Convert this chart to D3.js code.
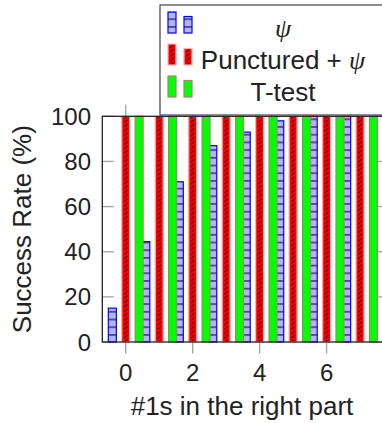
<!DOCTYPE html>
<html>
<head>
<meta charset="utf-8">
<script src="https://cdn.jsdelivr.net/npm/d3@7"></script>
<style>
  body { margin: 0; background: #fff; }
  svg { display: block; font-family: "Liberation Sans", Arial, sans-serif; }
</style>
</head>
<body>
<div id="chart"></div>
<script>
// data
var xValues = [0, 1, 2, 3, 4, 5, 6, 7];
var psiRate = [15, 44.5, 71, 87, 93, 98, 100, 100];
var puncturedRate = [100, 100, 100, 100, 100, 100, 100, 100];
var tTestRate = [100, 100, 100, 100, 100, 100, 100, 100];
var xTicks = [0, 2, 4, 6];
var yTicks = [0, 20, 40, 60, 80, 100];

var width = 382, height = 423;
var fontSize = 24;      // tick labels
var labelSize = 26;     // axis titles and legend

var series = [
  { key: "psi", values: psiRate, fill: "url(#hlines)", stroke: "#0000ff", legendFill: "url(#hlines)" },
  { key: "punct", values: puncturedRate, fill: "url(#nelines)", stroke: "#ffb0b0", legendFill: "url(#nelinesLegend)" },
  { key: "ttest", values: tTestRate, fill: "#00ff00", stroke: "#9b8a6a", legendFill: "#00ff00" }
];

var svg = d3.select("#chart").append("svg")
  .attr("width", width)
  .attr("height", height);

var x = d3.scaleLinear().domain([-0.7, 7.7]).range([102.3, 383.5]);
var y = d3.scaleLinear().domain([0, 100]).range([342, 116.3]);
// offset of each series inside a group, in x units
var offset = d3.scalePoint().domain(series.map(function (s) { return s.key; })).range([-0.4, 0.4]);
var barW = 8;
var step = x(1) - x(0);

var defs = svg.append("defs");

// blue: horizontal lines on light blue
var hp = defs.append("pattern").attr("id", "hlines")
  .attr("patternUnits", "userSpaceOnUse").attr("width", 10).attr("height", 7.7);
hp.append("rect").attr("width", 10).attr("height", 7.7).attr("fill", "#b3b3ff");
hp.append("line").attr("x1", 0).attr("x2", 10).attr("y1", 3.8).attr("y2", 3.8)
  .attr("stroke", "#1a1a2a").attr("stroke-width", 1.2);

// red: north east dashes, one tile per group so every bar looks alike
function neLines(id, x0, w) {
  var p = defs.append("pattern").attr("id", id)
    .attr("patternUnits", "userSpaceOnUse")
    .attr("x", x0).attr("width", w).attr("height", 4.4);
  p.append("rect").attr("width", w).attr("height", 4.4).attr("fill", "#ff0000");
  p.append("line").attr("x1", 2.3).attr("y1", 3.9).attr("x2", 5.8).attr("y2", 0.6)
    .attr("stroke", "#1a0000").attr("stroke-width", 1);
}
neLines("nelines", x(offset("punct")) - barW / 2, step);
neLines("nelinesLegend", 168, 16);

// ticks (drawn under the bars)
var tickLen = 11.5;
var ticks = svg.append("g").attr("stroke", "#a0a0a0").attr("stroke-width", 1.3);
yTicks.forEach(function (v) {
  ticks.append("line").attr("x1", x(-0.7)).attr("x2", x(-0.7) + tickLen).attr("y1", y(v)).attr("y2", y(v));
  ticks.append("line").attr("x1", x(7.7)).attr("x2", x(7.7) - tickLen).attr("y1", y(v)).attr("y2", y(v));
});
xTicks.forEach(function (v) {
  ticks.append("line").attr("x1", x(v)).attr("x2", x(v)).attr("y1", y(0)).attr("y2", y(0) + tickLen);
  ticks.append("line").attr("x1", x(v)).attr("x2", x(v)).attr("y1", y(100)).attr("y2", y(100) - tickLen);
});

// bars
series.forEach(function (s) {
  svg.append("g").attr("class", "bars-" + s.key)
    .selectAll("rect")
    .data(s.values)
    .enter().append("rect")
    .attr("x", function (d, i) { return x(xValues[i] + offset(s.key)) - barW / 2; })
    .attr("y", function (d) { return y(d); })
    .attr("width", barW)
    .attr("height", function (d) { return y(0) - y(d); })
    .attr("fill", s.fill)
    .attr("stroke", s.stroke)
    .attr("stroke-width", 1.2);
});

// axis frame
svg.append("rect")
  .attr("x", x(-0.7)).attr("y", y(100))
  .attr("width", x(7.7) - x(-0.7)).attr("height", y(0) - y(100))
  .attr("fill", "none").attr("stroke", "#222").attr("stroke-width", 1.3);

// tick labels
svg.append("g").selectAll("text")
  .data(yTicks).enter().append("text")
  .attr("x", 91).attr("y", function (d) { return y(d) + 8.5; })
  .attr("text-anchor", "end").attr("font-size", fontSize).attr("fill", "#222")
  .text(function (d) { return d; });

svg.append("g").selectAll("text")
  .data(xTicks).enter().append("text")
  .attr("x", function (d) { return x(d); }).attr("y", 380.5)
  .attr("text-anchor", "middle").attr("font-size", fontSize).attr("fill", "#222")
  .text(function (d) { return d; });

// axis titles
svg.append("text")
  .attr("x", 242).attr("y", 415)
  .attr("text-anchor", "middle").attr("font-size", labelSize).attr("fill", "#222")
  .text("#1s in the right part");

svg.append("text")
  .attr("transform", "translate(31," + ((y(0) + y(100)) / 2) + ") rotate(-90)")
  .attr("text-anchor", "middle").attr("font-size", labelSize).attr("fill", "#222")
  .text("Success Rate (%)");

// legend
var legend = svg.append("g");
legend.append("rect")
  .attr("x", 160).attr("y", 5).attr("width", 240).attr("height", 110)
  .attr("fill", "#fff").attr("stroke", "#444").attr("stroke-width", 1.2);

var rowY = [28, 60, 92];
series.forEach(function (s, i) {
  var base = rowY[i] + 5;
  legend.append("rect").attr("x", 168).attr("y", base - 21).attr("width", barW).attr("height", 21)
    .attr("fill", s.legendFill).attr("stroke", s.stroke).attr("stroke-width", 1.2);
  legend.append("rect").attr("x", 184).attr("y", base - 16.5).attr("width", barW).attr("height", 16.5)
    .attr("fill", s.legendFill).attr("stroke", s.stroke).attr("stroke-width", 1.2);
});

var t1 = legend.append("text").attr("x", 283).attr("y", rowY[0] + 9)
  .attr("text-anchor", "middle").attr("font-size", labelSize).attr("fill", "#222");
t1.append("tspan").attr("font-family", "Liberation Serif, serif").attr("font-style", "italic").text("ψ");

var t2 = legend.append("text").attr("x", 283).attr("y", rowY[1] + 9)
  .attr("text-anchor", "middle").attr("font-size", labelSize).attr("fill", "#222");
t2.append("tspan").text("Punctured + ");
t2.append("tspan").attr("font-family", "Liberation Serif, serif").attr("font-style", "italic").text("ψ");

legend.append("text").attr("x", 283).attr("y", rowY[2] + 9)
  .attr("text-anchor", "middle").attr("font-size", labelSize).attr("fill", "#222")
  .text("T-test");
</script>
</body>
</html>
